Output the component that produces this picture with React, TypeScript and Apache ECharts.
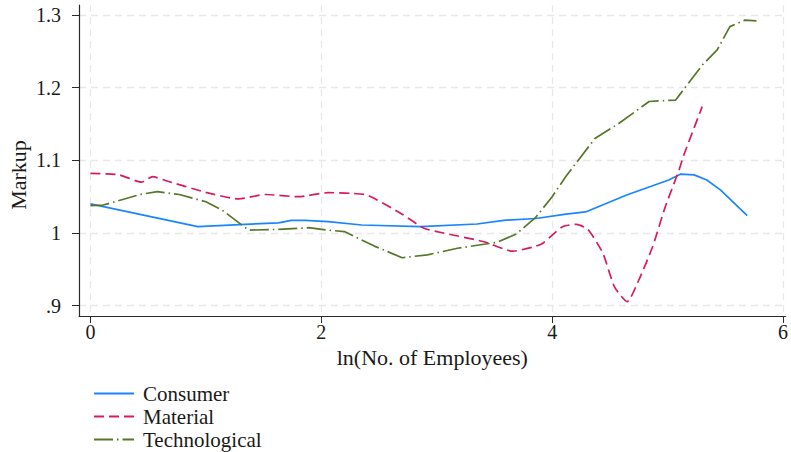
import React, { useEffect, useRef } from "react";
import * as echarts from "echarts";

const seriesNames = ["Consumer", "Material", "Technological"];
const xTicks = [0, 2, 4, 6];
const yTicks = [0.9, 1, 1.1, 1.2, 1.3];
const xTitle = "ln(No. of Employees)";
const yTitle = "Markup";

const consumer: [number, number][] = [
  [0, 1.04], [0.93, 1.0087], [1.34, 1.012], [1.63, 1.014], [1.74, 1.0175], [1.86, 1.0175],
  [2.06, 1.0156], [2.35, 1.011], [2.86, 1.0087], [3.35, 1.0124], [3.58, 1.0175], [3.86, 1.02],
  [4.12, 1.026], [4.29, 1.029], [4.64, 1.052], [5.01, 1.073], [5.11, 1.081], [5.23, 1.08],
  [5.34, 1.073], [5.46, 1.059], [5.69, 1.024],
];

const material: [number, number][] = [
  [0, 1.082], [0.25, 1.08], [0.44, 1.07], [0.54, 1.0775], [0.655, 1.072], [1.0, 1.056],
  [1.285, 1.047], [1.515, 1.053], [1.8, 1.05], [2.06, 1.0555], [2.26, 1.0546], [2.4, 1.052],
  [2.69, 1.027], [2.89, 1.0065], [3.06, 1.0], [3.41, 0.988], [3.66, 0.975], [3.84, 0.981],
  [3.92, 0.986], [4.09, 1.0087], [4.21, 1.012], [4.31, 1.005], [4.44, 0.972], [4.54, 0.926],
  [4.65, 0.9055], [4.75, 0.935], [4.87, 0.981], [4.98, 1.036], [5.1, 1.087], [5.14, 1.107],
  [5.3, 1.174],
];

const technological: [number, number][] = [
  [0, 1.0376], [0.11, 1.0385], [0.43, 1.053], [0.58, 1.057], [0.77, 1.053], [1.0, 1.043],
  [1.14, 1.0317], [1.37, 1.004], [1.63, 1.005], [1.89, 1.0073], [2.06, 1.004], [2.2, 1.002],
  [2.46, 0.982], [2.7, 0.966], [2.92, 0.97], [3.18, 0.979], [3.41, 0.9845], [3.52, 0.987],
  [3.69, 0.9986], [3.86, 1.022], [4.0, 1.05], [4.12, 1.078], [4.24, 1.103], [4.37, 1.13],
  [4.58, 1.151], [4.84, 1.181], [5.07, 1.183], [5.3, 1.231], [5.43, 1.252], [5.54, 1.284],
  [5.67, 1.293], [5.77, 1.292],
];

const FONT = "Liberation Serif";
const TEXT = "#1a1a1a";

export default function App() {
  const ref = useRef<HTMLDivElement>(null);
  useEffect(() => {
    if (!ref.current) return;
    const chart = echarts.init(ref.current, null, { renderer: "svg" });
    const gridLine = { show: true, lineStyle: { color: "#e8e8e8", type: [7, 5] as any, width: 1.3 } };
    chart.setOption({
      animation: false,
      backgroundColor: "#ffffff",
      textStyle: { fontFamily: FONT, color: TEXT },
      grid: { left: 79, right: 0, top: 5, bottom: 136, containLabel: false },
      xAxis: {
        type: "value",
        min: -0.099,
        max: 6.023,
        name: xTitle,
        nameLocation: "middle",
        nameGap: 24,
        nameTextStyle: { fontFamily: FONT, fontSize: 22, color: TEXT },
        axisLine: { show: true, onZero: false, lineStyle: { color: "#2a2a2a", width: 1.2 } },
        axisTick: { show: true, length: 7, customValues: xTicks, lineStyle: { color: "#2a2a2a" } },
        axisLabel: { customValues: xTicks, margin: 6, fontFamily: FONT, fontSize: 20, color: TEXT, formatter: (v: number) => String(v) },
        splitLine: gridLine,
      },
      yAxis: {
        type: "value",
        min: 0.8858,
        max: 1.3138,
        axisLine: { show: true, onZero: false, lineStyle: { color: "#2a2a2a", width: 1.2 } },
        axisTick: { show: true, length: 7, customValues: yTicks, lineStyle: { color: "#2a2a2a" } },
        axisLabel: {
          customValues: yTicks,
          margin: 18,
          fontFamily: FONT,
          fontSize: 20,
          color: TEXT,
          formatter: (v: number) => {
            const s = (Math.round(v * 10) / 10).toString();
            return s.startsWith("0.") ? s.slice(1) : s;
          },
        },
        splitLine: gridLine,
      },
      legend: {
        orient: "vertical",
        left: 93,
        top: 382,
        padding: 0,
        itemWidth: 40,
        itemHeight: 14,
        itemGap: 0,
        itemStyle: { opacity: 0 },
        data: seriesNames,
        textStyle: { fontFamily: FONT, fontSize: 21, color: TEXT, lineHeight: 23, padding: [0, 0, 0, 4] },
      },
      graphic: [
        {
          type: "text",
          x: 18,
          y: 175,
          rotation: Math.PI / 2,
          style: { text: yTitle, fontFamily: FONT, fontSize: 22, fill: TEXT, textAlign: "center", textVerticalAlign: "middle" },
        },
      ],
      series: [
        {
          name: seriesNames[0],
          type: "line",
          data: consumer,
          symbol: "none",
          lineStyle: { color: "#1a85ff", width: 1.7, type: "solid" },
          itemStyle: { color: "#1a85ff" },
        },
        {
          name: seriesNames[1],
          type: "line",
          data: material,
          symbol: "none",
          smooth: 0.2,
          lineStyle: { color: "#d81b60", width: 1.7, type: [10, 5] },
          itemStyle: { color: "#d81b60" },
        },
        {
          name: seriesNames[2],
          type: "line",
          data: technological,
          symbol: "none",
          lineStyle: { color: "#55772a", width: 1.7, type: [19, 4, 1.5, 4] },
          itemStyle: { color: "#55772a" },
        },
      ],
    });
    return () => chart.dispose();
  }, []);
  return <div ref={ref} style={{ position: "fixed", left: 0, top: 0, width: 791, height: 452, background: "#fff" }} />;
}
